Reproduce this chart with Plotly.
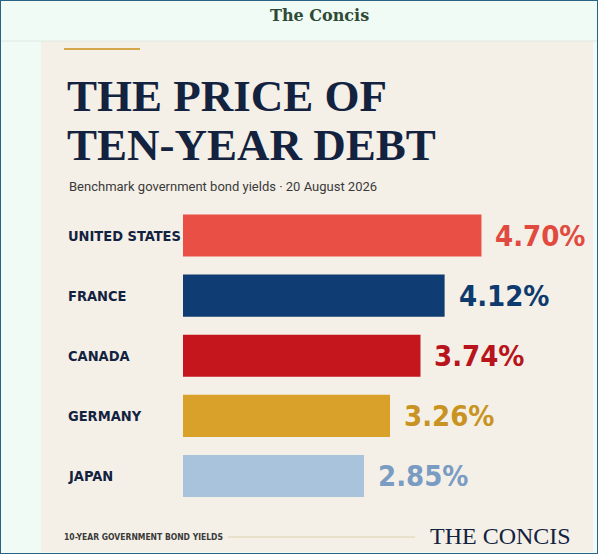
import plotly.graph_objects as go

W, H = 598, 554

countries = ["UNITED STATES", "FRANCE", "CANADA", "GERMANY", "JAPAN"]
yields = [4.70, 4.12, 3.74, 3.26, 2.85]
bar_colors = ["#e94f45", "#0f3c73", "#c4161c", "#d9a12a", "#a9c3dc"]
text_colors = ["#e04a3f", "#0f3a6e", "#b8141b", "#c99322", "#7a9cc3"]

title_lines = ["THE PRICE OF", "TEN-YEAR DEBT"]
subtitle = "Benchmark government bond yields · 20 August 2026"
footer_left = "10-YEAR GOVERNMENT BOND YIELDS"
footer_right = "THE CONCIS"
brand = "The Concis"

NARROW = "DejaVu Sans Condensed, Roboto, sans-serif"
SERIF = "Liberation Serif, DejaVu Serif, serif"
NAVY = "#13223f"


def px(x):
    return x / W


def py(y):
    return 1 - y / H


fig = go.Figure()
fig.add_trace(go.Bar(
    x=yields, y=countries, orientation="h",
    marker=dict(color=bar_colors, line=dict(width=0)),
    width=0.7, hoverinfo="skip",
))

annotations = []
for c, v, col in zip(countries, yields, text_colors):
    annotations.append(dict(
        x=px(66), xref="paper", y=c, yref="y", xanchor="left", yanchor="middle",
        text=f"<b>{c}</b>", showarrow=False, font=dict(family=NARROW, size=14.5, color=NAVY),
    ))
    annotations.append(dict(
        x=v, xref="x", y=c, yref="y", xanchor="left", yanchor="middle",
        xshift=12, yshift=0, text=f"<b>{v:.2f}%</b>", showarrow=False,
        font=dict(family=NARROW, size=29, color=col),
    ))

# header, title and footer text
annotations.append(dict(
    x=px(319), y=py(15), xref="paper", yref="paper", xanchor="center", yanchor="middle",
    text=f"<b>{brand}</b>", showarrow=False,
    font=dict(family="DejaVu Serif, serif", size=16, color="#2e4a36")))
for i, line in enumerate(title_lines):
    annotations.append(dict(
        x=px(65), y=py(96 + 49 * i), xref="paper", yref="paper", xanchor="left", yanchor="middle",
        text=f"<b>{line}</b>", showarrow=False,
        font=dict(family=SERIF, size=45, color=NAVY)))
annotations += [
    dict(x=px(67), y=py(186), xref="paper", yref="paper", xanchor="left", yanchor="middle",
         text=subtitle, showarrow=False,
         font=dict(family="Roboto, sans-serif", size=13, color="#3a3a3a")),
    dict(x=px(62), y=py(537), xref="paper", yref="paper", xanchor="left", yanchor="middle",
         text=f"<b>{footer_left}</b>", showarrow=False,
         font=dict(family=NARROW, size=8.5, color="#3a3a3a")),
    dict(x=px(573), y=py(536), xref="paper", yref="paper", xanchor="right", yanchor="middle",
         text=footer_right, showarrow=False,
         font=dict(family=SERIF, size=24, color=NAVY)),
]

shapes = [
    # beige card
    dict(type="rect", xref="paper", yref="paper", x0=px(41), x1=px(593), y0=py(552), y1=py(41),
         fillcolor="#f4f0e7", line=dict(width=0), layer="below"),
    # header divider
    dict(type="line", xref="paper", yref="paper", x0=0, x1=1, y0=py(41), y1=py(41),
         line=dict(color="#dfe8e2", width=1), layer="below"),
    # gold accent
    dict(type="line", xref="paper", yref="paper", x0=px(64), x1=px(140), y0=py(49), y1=py(49),
         line=dict(color="#d4a64a", width=2), layer="below"),
    # footer rule
    dict(type="line", xref="paper", yref="paper", x0=px(228), x1=px(415), y0=py(537), y1=py(537),
         line=dict(color="#dcd3ae", width=1), layer="below"),
    # outer border
    dict(type="rect", xref="paper", yref="paper", x0=0, x1=1, y0=0, y1=1,
         line=dict(color="#2a6286", width=2), fillcolor="rgba(0,0,0,0)", layer="above"),
]

fig.update_layout(
    width=W, height=H,
    margin=dict(l=0, r=0, t=0, b=0),
    paper_bgcolor="#effbf4",
    plot_bgcolor="rgba(0,0,0,0)",
    showlegend=False,
    xaxis=dict(domain=[px(183), px(596)], range=[0, 413 / 63.5], visible=False, fixedrange=True),
    yaxis=dict(domain=[py(506), py(205.5)], range=[4.5, -0.5], visible=False, fixedrange=True,
               categoryorder="array", categoryarray=countries),
    annotations=annotations,
    shapes=shapes,
)

fig.write_html(
    "out.html",
    config={"displayModeBar": False},
    post_script="document.body.style.margin='0';document.body.style.overflow='hidden';",
)
